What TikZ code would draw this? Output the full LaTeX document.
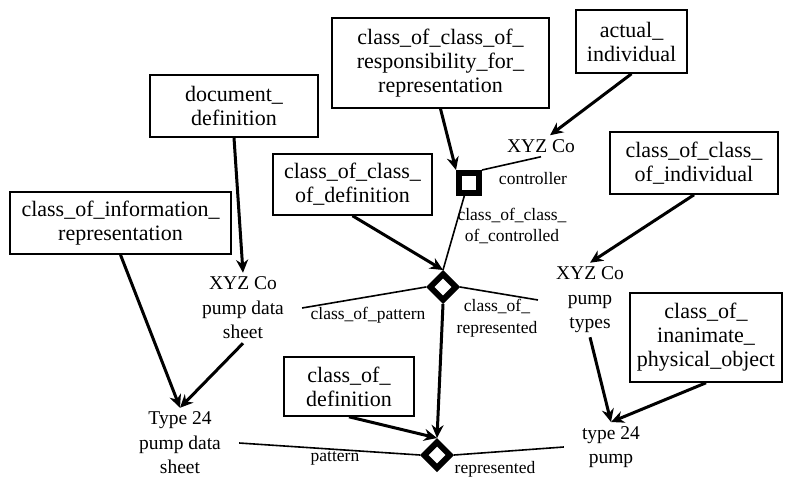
\documentclass[tikz,border=0pt]{standalone}
\usepackage{fontspec}
\setmainfont{Liberation Serif}
\usetikzlibrary{arrows.meta,shapes.geometric}

\begin{document}
\begin{tikzpicture}[x=1pt, y=-1pt,
  classbox/.style={draw, line width=1.6pt, align=center, inner sep=2pt, font=\fontsize{22}{24}\selectfont},
  thing/.style={align=center, inner xsep=18pt, inner ysep=4pt, font=\fontsize{19.5}{24.5}\selectfont},
  role/.style={align=center, inner sep=1pt, font=\fontsize{17.5}{21.5}\selectfont},
  link/.style={line width=1.6pt},
  isa/.style={line width=3pt, -{Stealth[length=13pt, width=12pt]}},
  relsq/.style={draw, line width=6pt, minimum size=20pt, inner sep=0pt},
  reldia/.style={diamond, draw, line width=6pt, minimum size=28pt, inner sep=0pt, aspect=1}]
  \useasboundingbox (0,0) rectangle (786,479);

  % classes
  \foreach \x/\y/\w/\h/\name/\txt in {
      440.5/63/217/90/ccresp/{class\_of\_class\_of\_\\responsibility\_for\_\\representation},
      631.5/41.5/111/63/actind/{actual\_\\individual},
      234/106/168/62/docdef/{document\_\\definition},
      352.5/184.5/159/61/ccdef/{class\_of\_class\_\\of\_definition},
      694/163/168/62/ccind/{class\_of\_class\_\\of\_individual},
      120.5/223/221/62/cinfo/{class\_of\_information\_\\representation},
      706/337.5/152/89/inanim/{class\_of\_\\inanimate\_\\physical\_object},
      349/386.5/130/59/cdef/{class\_of\_\\definition}}
    \node[classbox, minimum width=\w pt, minimum height=\h pt] (\name) at (\x,\y) {\txt};

  % things
  \node[thing] (xyzc) at (541,146) {XYZ Co};
  \node[thing] (pds) at (243,308) {XYZ Co\\pump data\\sheet};
  \node[thing] (ptypes) at (590,300) {XYZ Co\\pump\\types};
  \node[thing] (tds) at (180,443) {Type 24\\pump data\\sheet};
  \node[thing] (tpump) at (611,447) {type 24\\pump};

  % relationships
  \node[relsq] (ctl) at (469,183) {};
  \node[reldia] (cpat) at (443,287) {};
  \node[reldia] (pat) at (437,455) {};

  % roles
  \node[role] (lctl) at (533,179) {controller};
  \node[role] (lccc) at (512,226) {class\_of\_class\_\\of\_controlled};
  \node[role] (lcpat) at (368,315) {class\_of\_pattern};
  \node[role] (lcrep) at (497,318) {class\_of\_\\represented};
  \node[role] (lpat) at (335,458) {pattern};
  \node[role] (lrep) at (495,469) {represented};

  \draw[link] (ctl.north east) -- (xyzc.south);
  \draw[link] (ctl.-110) -- (cpat.north);
  \draw[link] (cpat.west) -- (pds.east);
  \draw[link] (cpat.east) -- (ptypes.west);
  \draw[link] (pat.west) -- (tds.east);
  \draw[link] (pat.east) -- (tpump.west);

  \draw[isa] (ccresp.south) -- (ctl.north west);
  \draw[isa] (actind.south) -- (xyzc.50);
  \draw[isa] (ccdef.south) -- (cpat.north);
  \draw[isa] (cpat.south) -- (pat.north);
  \draw[isa] (cdef.south) -- (pat.north);
  \draw[isa] (docdef.south) -- (pds.north);
  \draw[isa] (cinfo.south) -- (tds.north);
  \draw[isa] (pds.south) -- (tds.north);
  \draw[isa] (ccind.south) -- (ptypes.north);
  \draw[isa] (ptypes.south) -- (tpump.north);
  \draw[isa] (inanim.south) -- (tpump.north);
\end{tikzpicture}
\end{document}
